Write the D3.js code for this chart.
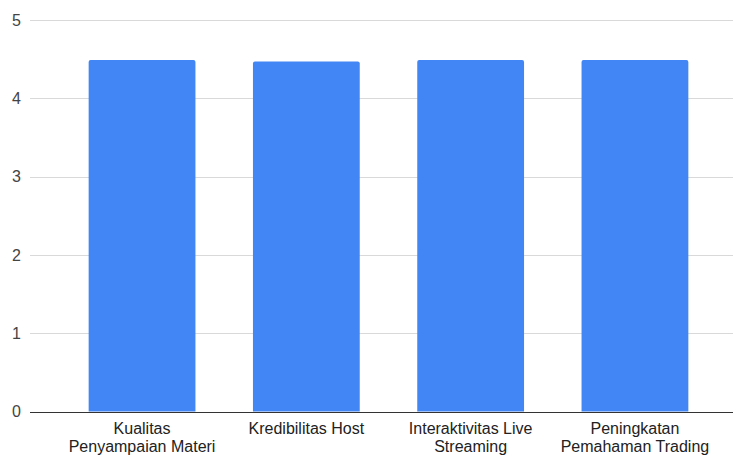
<!DOCTYPE html>
<html><head><meta charset="utf-8">
<script src="https://cdn.jsdelivr.net/npm/d3@7"></script>
<style>body{margin:0;background:#fff;}svg{display:block;}</style>
</head><body>
<svg id="chart" width="733" height="457"></svg>
<script>
const categories = [
  ["Kualitas", "Penyampaian Materi"],
  ["Kredibilitas Host"],
  ["Interaktivitas Live", "Streaming"],
  ["Peningkatan", "Pemahaman Trading"]
];
const values = [4.49, 4.47, 4.49, 4.49];
const yTicks = [0, 1, 2, 3, 4, 5];

(function () {
const svg = d3.select("#chart");
const plotLeft = 30, plotRight = 733, plotTop = 20, plotBottom = 411.5;
const names = categories.map(c => c.join(" "));
const font = "'Liberation Sans', Arial, sans-serif";

const x = d3.scaleBand().domain(names).range([30, 747]).paddingInner(0.35).paddingOuter(0.357);
const y = d3.scaleLinear().domain([0, 5]).range([plotBottom, plotTop]);

// gridlines
svg.append("g").selectAll("line").data(yTicks.filter(d => d > 0)).join("line")
  .attr("x1", plotLeft).attr("x2", plotRight)
  .attr("y1", d => Math.round(y(d)) + 0.5).attr("y2", d => Math.round(y(d)) + 0.5)
  .attr("stroke", "#d9d9d9").attr("stroke-width", 1);

// y labels
svg.append("g").selectAll("text").data(yTicks).join("text")
  .attr("x", 21).attr("y", d => y(d)).attr("dy", "0.35em")
  .attr("text-anchor", "end")
  .attr("font-family", font).attr("font-size", 16)
  .attr("fill", "#444").text(d => d);

// bars
svg.append("g").selectAll("path").data(values).join("path")
  .attr("d", (d, i) => {
    const x0 = x(names[i]), w = x.bandwidth(), y0 = y(d), y1 = y(0), r = 2;
    return `M${x0},${y1}V${y0 + r}Q${x0},${y0} ${x0 + r},${y0}H${x0 + w - r}Q${x0 + w},${y0} ${x0 + w},${y0 + r}V${y1}Z`;
  })
  .attr("fill", "#4285f4");

// baseline
svg.append("line").attr("x1", plotLeft).attr("x2", plotRight)
  .attr("y1", Math.round(y(0)) + 0.5).attr("y2", Math.round(y(0)) + 0.5)
  .attr("stroke", "#333").attr("stroke-width", 1);

// x labels
const xl = svg.append("g").selectAll("text").data(categories).join("text")
  .attr("x", (d, i) => x(names[i]) + x.bandwidth() / 2)
  .attr("y", 434)
  .attr("text-anchor", "middle")
  .attr("font-family", font).attr("font-size", 16)
  .attr("fill", "#222");
xl.selectAll("tspan").data(d => d).join("tspan")
  .attr("x", function() { return d3.select(this.parentNode).attr("x"); })
  .attr("dy", (d, i) => i === 0 ? 0 : 18)
  .text(d => d);
})();
</script>
</body></html>
